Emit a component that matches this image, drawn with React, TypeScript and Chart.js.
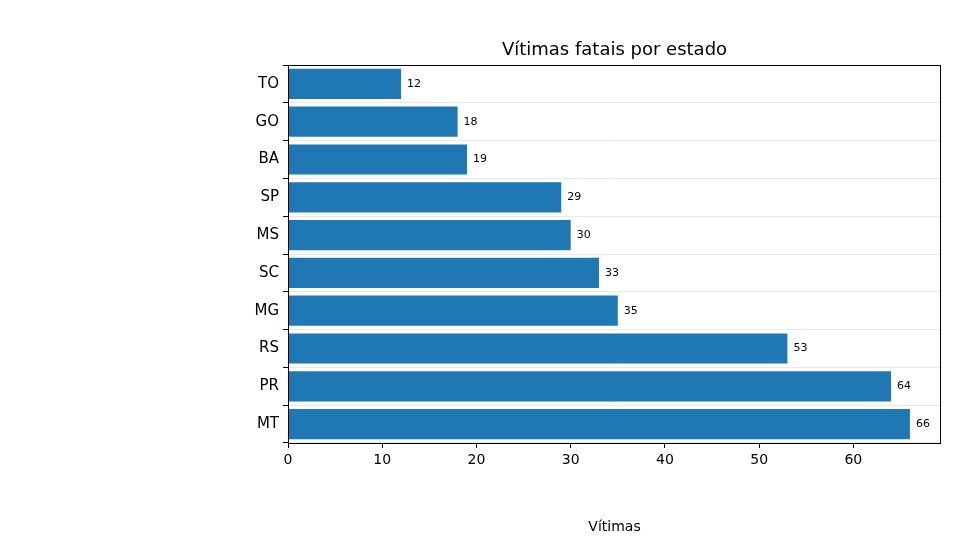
import React, { useEffect, useRef } from "react";
import { Chart, registerables } from "chart.js";
Chart.register(...registerables);

const states = ["TO", "GO", "BA", "SP", "MS", "SC", "MG", "RS", "PR", "MT"];
const victims = [12, 18, 19, 29, 30, 33, 35, 53, 64, 66];
const xTicks = [0, 10, 20, 30, 40, 50, 60];
const FONT = "'DejaVu Sans', sans-serif";

export default function App() {
  const ref = useRef<HTMLCanvasElement>(null);
  useEffect(() => {
    const extras = {
      id: "extras",
      afterDatasetsDraw(chart: any) {
        const { ctx, chartArea: a } = chart;
        const meta = chart.getDatasetMeta(0);
        ctx.save();
        ctx.fillStyle = "#000";
        ctx.font = `11px ${FONT}`;
        ctx.textBaseline = "middle";
        meta.data.forEach((bar: any, i: number) => {
          ctx.fillText(String(victims[i]), bar.x + 6, bar.y);
        });
        ctx.strokeStyle = "#000";
        ctx.lineWidth = 1;
        ctx.strokeRect(a.left + 0.5, a.top + 0.5, a.right - a.left - 1, a.bottom - a.top);
        ctx.font = `18px ${FONT}`;
        ctx.textAlign = "center";
        ctx.textBaseline = "alphabetic";
        ctx.fillText("Vítimas fatais por estado", (a.left + a.right) / 2, a.top - 10);
        ctx.restore();
      },
    };
    const chart = new Chart(ref.current!, {
      type: "bar",
      data: {
        labels: states,
        datasets: [{ data: victims, backgroundColor: "#1f77b4", barPercentage: 0.8, categoryPercentage: 1 }],
      },
      options: {
        indexAxis: "y",
        animation: false,
        responsive: false,
        layout: { padding: { left: 0, top: 65, right: 19, bottom: 0 } },
        plugins: { legend: { display: false }, tooltip: { enabled: false } },
        scales: {
          x: {
            min: 0,
            max: 69.3,
            afterBuildTicks: (s: any) => { s.ticks = xTicks.map((v) => ({ value: v })); },
            afterFit: (s: any) => { s.height = 97; },
            grid: { drawOnChartArea: false, tickLength: 5, color: "#000", tickColor: "#000" },
            border: { display: false },
            ticks: { color: "#000", font: { family: FONT, size: 14 }, padding: 4 },
            title: { display: true, text: "Vítimas", color: "#000", font: { family: FONT, size: 14 }, padding: { top: 4 } },
          },
          y: {
            afterFit: (s: any) => { s.width = 288; },
            grid: { color: "#e8e8e8", tickColor: "#000", tickLength: 5 },
            border: { display: false },
            ticks: { color: "#000", font: { family: FONT, size: 15 }, padding: 4 },
          },
        },
      },
      plugins: [extras],
    });
    return () => chart.destroy();
  }, []);
  return (
    <canvas ref={ref} width={960} height={540} style={{ position: "absolute", left: 0, top: 0 }} />
  );
}
